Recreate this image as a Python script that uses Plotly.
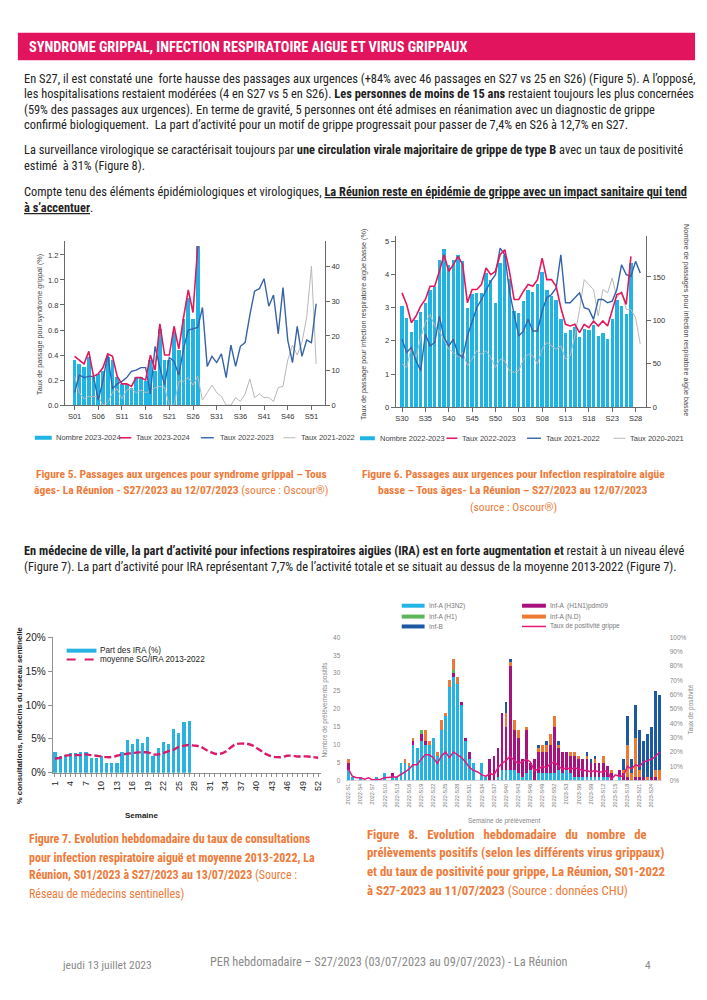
import plotly.graph_objects as go

W, H = 707, 1000
def px(x): return x / W
def py(y): return 1 - y / H

BODY = "Liberation Sans Narrow, Roboto Condensed, Liberation Sans, sans-serif"
CHART = "Liberation Sans, Arial, sans-serif"

CYAN = "#1FB4E4"
PINK = "#E3195D"
BLUE = "#3562A9"
GREY = "#B8B8B8"
ORANGE_TXT = "#EE7B3A"

# ---------------- Figure 5 data ----------------
f5_weeks = ["S01","S02","S03","S04","S05","S06","S07","S08","S09","S10","S11","S12","S13",
            "S14","S15","S16","S17","S18","S19","S20","S21","S22","S23","S24","S25","S26",
            "S27","S28","S29","S30","S31","S32","S33","S34","S35","S36","S37","S38","S39",
            "S40","S41","S42","S43","S44","S45","S46","S47","S48","S49","S50","S51","S52"]
f5_ticks = ["S01","S06","S11","S16","S21","S26","S31","S36","S41","S46","S51"]
f5_nombre_2324 = [13, 12, 11, 14, 8, 9, 10, 14, 13, 8, 6, 6, 5, 8, 8, 7, 13, 10, 22, 13,
                  13, 21, 16, 25, 31, 25, 46]
f5_taux_2324 = [0.39, 0.36, 0.33, 0.43, 0.23, 0.25, 0.30, 0.41, 0.39, 0.23, 0.17, 0.17, 0.15,
                0.22, 0.22, 0.20, 0.40, 0.28, 0.65, 0.40, 0.40, 0.63, 0.45, 0.70, 0.92, 0.74, 1.27]
f5_taux_2223 = [0.10, 0.24, 0.22, 0.23, 0.23, 0.04, 0.20, 0.41, 0.13, 0.17,
                0.19, 0.22, 0.27, 0.28, 0.30, 0.30, 0.09, 0.47, 0.30, 0.16,
                0.38, 0.35, 0.24, 0.45, 0.60, 0.61, 0.62, 0.78, 0.31, 0.39,
                0.34, 0.41, 0.22, 0.48, 0.31, 0.47, 0.50, 0.72, 0.91, 0.93,
                1.01, 0.79, 0.88, 0.57, 0.94, 0.52, 0.34, 0.63, 0.39, 0.52, 0.50, 0.81]
f5_taux_2122 = [0.23, 0.10, 0.05, 0.07, 0.07, 0.07, 0.00, 0.02, 0.10, 0.13,
                0.05, 0.12, 0.13, 0.10, 0.12, 0.10, 0.11, 0.14, 0.15, 0.14,
                0.00, 0.00, 0.19, 0.19, 0.22, 0.16, 0.23, 0.04, 0.10, 0.16,
                0.10, 0.07, 0.00, 0.00, 0.06, 0.03, 0.09, 0.21, 0.06, 0.09,
                0.06, 0.06, 0.03, 0.14, 0.15, 0.36, 0.48, 0.40, 0.50, 0.70, 1.11, 0.33]

# ---------------- Figure 6 data ----------------
f6_weeks = ["S30","S31","S32","S33","S34","S35","S36","S37","S38","S39","S40","S41","S42",
            "S43","S44","S45","S46","S47","S48","S49","S50","S51","S52","S01","S02","S03",
            "S04","S05","S06","S07","S08","S09","S10","S11","S12","S13","S14","S15","S16",
            "S17","S18","S19","S20","S21","S22","S23","S24","S25","S26","S27","S28","S29"]
f6_ticks = ["S30","S35","S40","S45","S50","S03","S08","S13","S18","S23","S28"]
f6_nombre_2223 = [116, 103, 87, 100, 110, 120, 135, 139, 170, 182,
                  164, 170, 175, 168, 114, 130, 132, 132, 155, 146,
                  120, 166, 175, 148, 111, 108, 122, 135, 133, 142,
                  156, 135, 128, 123, 102, 86, 89, 92, 81, 90,
                  89, 95, 82, 86, 78, 102, 124, 116, 107, 166]
f6_taux_2223 = [3.45, 3.1, 2.55, 2.75, 3.05, 3.25, 3.65, 3.65, 4.1, 4.6,
                4.1, 4.3, 4.55, 4.3, 3.15, 3.55, 3.55, 3.7, 4.2, 4.0,
                4.1, 4.6, 4.75, 4.1, 3.25, 3.25, 3.5, 3.7, 3.65, 3.85,
                4.5, 3.85, 3.85, 3.65, 3.0, 2.5, 2.45, 2.5, 2.25, 2.5,
                2.4, 2.6, 2.45, 2.6, 2.45, 2.9, 3.4, 3.45, 3.1, 4.55]
f6_taux_2122 = [2.05, 1.65, 1.8, 1.4, 1.1, 2.2, 1.85, 1.95, 2.75, 2.1,
                1.85, 2.05, 1.6, 1.5, 2.15, 2.55, 3.0, 3.25, 3.55, 3.8,
                4.0, 4.8, 4.6, 3.5, 2.8, 2.15, 2.3, 2.65, 2.3, 2.3,
                2.9, 3.3, 3.4, 3.6, 4.6, 3.15, 3.15, 3.3, 3.45, 3.0,
                2.95, 2.65, 3.25, 3.25, 3.15, 3.2, 3.55, 4.3, 4.0, 3.95, 4.4, 4.05]
f6_taux_2021 = [1.3, 1.2, 1.8, 1.5, 2.1, 2.55, 2.8, 2.45, 2.3, 2.0,
                1.75, 1.65, 1.5, 1.65, 1.25, 1.45, 1.7, 1.6, 1.7, 1.5,
                1.2, 1.45, 1.4, 1.1, 1.05, 1.1, 1.45, 1.6, 1.55, 1.3,
                1.75, 1.95, 1.85, 1.75, 1.85, 1.45, 1.55, 2.15, 2.95, 3.85,
                3.7, 3.55, 2.75, 3.55, 3.45, 3.9, 3.3, 3.5, 2.95, 2.95, 2.7, 1.9]

# ---------------- Figure 7 data ----------------
f7_weeks = list(range(1, 53))
f7_ticklabels = ["1","","","4","","","7","","","10","","","13","","","16","","","19","","",
                 "22","","","25","","","28","","","31","","","34","","","37","","","40","","",
                 "43","","","46","","","49","","","52"]
f7_yticks = [0, 5, 10, 15, 20]
f7_yticklabels = ["0%", "5%", "10%", "15%", "20%"]
f7_part_ira = [3.0, 2.4, 2.6, 2.9, 2.9, 3.0, 3.0, 2.1, 2.1, 2.5, 1.5, 1.5, 1.5, 3.0,
               4.9, 4.2, 5.0, 4.4, 5.2, 2.4, 3.6, 4.6, 4.3, 6.4, 5.9, 7.5, 7.7]
f7_moyenne = [2.1, 2.2, 2.5, 2.6, 2.6, 2.6, 2.7, 2.6, 2.5, 2.4,
              2.3, 2.3, 2.5, 2.7, 2.8, 2.9, 3.0, 3.0, 3.0, 2.7,
              2.7, 2.9, 3.2, 3.4, 3.8, 4.0, 4.1, 4.0, 3.9, 3.5,
              3.1, 2.8, 2.8, 3.1, 3.7, 4.2, 4.3, 4.3, 4.1, 3.7,
              3.2, 2.7, 2.4, 2.3, 2.3, 2.5, 2.5, 2.4, 2.4, 2.4, 2.3, 2.2]

# ---------------- Figure 8 data ----------------
f8_weeks = (["2022-S%d" % w for w in range(1, 53)] + ["2023-S%d" % w for w in range(1, 27)])
f8_ticks = ["2022-S1","2022-S4","2022-S7","2022-S10","2022-S13","2022-S16","2022-S19",
            "2022-S22","2022-S25","2022-S28","2022-S31","2022-S34","2022-S37","2022-S40",
            "2022-S43","2022-S46","2022-S49","2022-S52","2023-S3","2023-S6","2023-S9",
            "2023-S12","2023-S15","2023-S18","2023-S21","2023-S24"]
f8_h3n2 = [3,1,0,1,0,0,0,1,0,2, 0,1,1,5,5,4,10,9,11,10, 10,12,7,14,18,26,29,27,21,11,
           6,5,0,5,1,0,0,1,3,3, 3,3,2,1,2,3,0,2,2,2, 2,2,3,2,3,2,1,1,1,1,
           1,1,1,1,1,0,0,1,0,0, 0,0,0,0,0,0,0,0]
f8_h1n1 = [2,0,0,0,0,0,0,0,0,0, 0,1,0,0,0,0,1,0,2,1, 0,0,0,0,0,0,1,0,1,1,
           2,0,0,0,0,6,7,8,16,12, 29,11,10,5,12,2,6,6,6,6, 8,13,6,6,5,5,6,5,5,5,
           4,4,4,4,3,2,0,2,2,1, 0,1,1,1,0,1,1,0]
f8_h1 = [0,0,0,0,0,0,0,0,0,0, 0,0,0,0,0,0,0,0,1,0, 0,0,0,0,0,0,1,0,0,0,
         0,0,0,0,0,0,0,0,0,0, 0,0,0,0,0,0,0,0,0,0, 0,0,0,0,0,0,0,0,0,0,
         0,0,0,0,0,0,0,0,0,0, 0,0,0,0,0,0,0,0]
f8_nd = [1,0,0,0,0,0,0,0,0,0, 0,0,0,0,1,1,1,0,0,3, 1,0,1,3,1,2,3,2,0,0,
         0,0,0,0,0,0,0,0,0,4, 1,3,2,0,1,0,0,1,2,2, 3,3,1,0,0,1,1,1,0,1,
         0,1,0,2,0,1,0,0,1,9, 2,11,2,0,1,0,2,3]
f8_b = [0,0,0,0,0,0,0,0,0,0, 0,0,0,0,0,0,0,0,0,0, 0,0,0,0,0,0,0,0,0,0,
        0,0,0,0,0,0,0,0,0,3, 1,0,0,0,0,0,0,1,0,1, 0,0,1,0,0,0,0,0,0,1,
        1,1,0,0,0,0,0,0,3,8, 4,9,11,10,12,14,22,21]
f8_taux = [8,3,2,2,1,2,0.5,0.5,1,2, 2.5,2.5,2.5,4,6,8,11,11,15,18,
           18,16,12,17,20,16,20,18,16,13, 9,7,6,4,3,5,4,9,12,14,
           17,14,12,13,15,13,7,8,10,9, 12,13,10,8,9,8,9,8,7,7,
           6,7,6,6,7,1,4,3,3,10, 8,11,10,13,14,15,17,20]
f8_taux_frac = [v / 100 for v in f8_taux]

F8_CYAN, F8_MAG, F8_GREEN, F8_ORANGE, F8_BLUE, F8_LINE = "#23B4E6", "#A8127F", "#5DB55A", "#EC7A32", "#1D58A3", "#E2197A"

fig = go.Figure()

# ---- Fig 5 traces ----
fig.add_trace(go.Bar(x=f5_weeks[:len(f5_nombre_2324)], y=f5_nombre_2324, marker=dict(color=CYAN, line=dict(width=0)),
                     width=0.8, xaxis="x", yaxis="y"))
fig.add_trace(go.Scatter(x=f5_weeks, y=f5_taux_2122, mode="lines", line=dict(color=GREY, width=1), xaxis="x", yaxis="y2"))
fig.add_trace(go.Scatter(x=f5_weeks, y=f5_taux_2223, mode="lines", line=dict(color=BLUE, width=1.4), xaxis="x", yaxis="y2"))
fig.add_trace(go.Scatter(x=f5_weeks[:len(f5_taux_2324)], y=f5_taux_2324, mode="lines", line=dict(color=PINK, width=1.6), xaxis="x", yaxis="y2"))

# ---- Fig 6 traces ----
fig.add_trace(go.Bar(x=f6_weeks[:len(f6_nombre_2223)], y=f6_nombre_2223, marker=dict(color=CYAN, line=dict(width=0)),
                     width=0.72, xaxis="x2", yaxis="y3"))
fig.add_trace(go.Scatter(x=f6_weeks, y=f6_taux_2021, mode="lines", line=dict(color=GREY, width=1), xaxis="x2", yaxis="y4"))
fig.add_trace(go.Scatter(x=f6_weeks, y=f6_taux_2122, mode="lines", line=dict(color=BLUE, width=1.4), xaxis="x2", yaxis="y4"))
fig.add_trace(go.Scatter(x=f6_weeks[:len(f6_taux_2223)], y=f6_taux_2223, mode="lines", line=dict(color=PINK, width=1.6), xaxis="x2", yaxis="y4"))

# ---- Fig 7 traces ----
fig.add_trace(go.Bar(x=f7_weeks[:len(f7_part_ira)], y=f7_part_ira, marker=dict(color="#29B3E3", line=dict(width=0)),
                     width=0.62, xaxis="x3", yaxis="y5"))
fig.add_trace(go.Scatter(x=f7_weeks, y=f7_moyenne, mode="lines", line=dict(color="#D91B6A", width=2.4, dash="7px,3px", shape="spline"),
                         xaxis="x3", yaxis="y5"))

# ---- Fig 8 traces ----
for vals, col in [(f8_h3n2, F8_CYAN), (f8_h1n1, F8_MAG), (f8_h1, F8_GREEN), (f8_nd, F8_ORANGE), (f8_b, F8_BLUE)]:
    fig.add_trace(go.Bar(x=f8_weeks, y=vals, marker=dict(color=col, line=dict(width=0)), width=0.7, xaxis="x4", yaxis="y6"))
fig.add_trace(go.Scatter(x=f8_weeks, y=f8_taux_frac, mode="lines", line=dict(color=F8_LINE, width=1.5), xaxis="x4", yaxis="y7"))

ax_common = dict(showgrid=False, zeroline=False, ticks="outside", ticklen=4, tickwidth=0.8,
                 tickcolor="#444", showline=True, linecolor="#444", linewidth=0.8,
                 tickfont=dict(family=CHART, size=7.5, color="#333"), fixedrange=True)

layout = dict(
    width=W, height=H, margin=dict(l=0, r=0, t=0, b=0),
    paper_bgcolor="white", plot_bgcolor="rgba(0,0,0,0)",
    showlegend=False, barmode="stack", bargap=0, hovermode=False,
    # Fig 5
    xaxis=dict(ax_common, domain=[px(63), px(325)], anchor="y", type="category",
               categoryorder="array", categoryarray=f5_weeks, range=[-2.1, 52.9], tickvals=f5_ticks),
    yaxis=dict(ax_common, domain=[py(404), py(238)], anchor="x", side="right", range=[0, 47.4],
               tickvals=[0, 10, 20, 30, 40]),
    yaxis2=dict(ax_common, overlaying="y", anchor="x", side="left", range=[0, 1.31],
                tickvals=[0, 0.2, 0.4, 0.6, 0.8, 1.0, 1.2], tickformat=".1f"),
    # Fig 6
    xaxis2=dict(ax_common, domain=[px(395.7), px(648)], anchor="y3", type="category",
                categoryorder="array", categoryarray=f6_weeks, range=[-1.4, 52.3], tickvals=f6_ticks),
    yaxis3=dict(ax_common, domain=[py(406), py(233)], anchor="x2", side="right", range=[0, 197],
                tickvals=[0, 50, 100, 150]),
    yaxis4=dict(ax_common, overlaying="y3", anchor="x2", side="left", range=[0, 5.16],
                tickvals=[0, 1, 2, 3, 4, 5]),
    # Fig 7
    xaxis3=dict(ax_common, domain=[px(50.7), px(320.6)], anchor="y5", range=[0.5, 52.5],
                tickvals=f7_weeks, ticktext=f7_ticklabels, tickangle=-90, linecolor="#777", tickcolor="#777",
                tickfont=dict(family=CHART, size=9, color="#222")),
    yaxis5=dict(ax_common, domain=[py(776), py(639)], anchor="x3", range=[0, 20],
                tickvals=f7_yticks, ticktext=f7_yticklabels, linecolor="#777", tickcolor="#777",
                tickfont=dict(family=CHART, size=10, color="#222")),
    # Fig 8
    xaxis4=dict(showgrid=False, zeroline=False, domain=[px(346.3), px(663.5)], anchor="y6", type="category",
                categoryorder="array", categoryarray=f8_weeks, range=[-0.5, 77.5], tickvals=f8_ticks,
                tickangle=-90, ticks="", showline=True, linecolor="#C8C8C8", linewidth=0.8,
                tickfont=dict(family=CHART, size=5.5, color="#777"), fixedrange=True),
    yaxis6=dict(showgrid=False, zeroline=False, domain=[py(784), py(639)], anchor="x4", range=[0, 40],
                tickvals=[0, 5, 10, 15, 20, 25, 30, 35, 40], showline=False, ticks="",
                ticklabelstandoff=5, tickfont=dict(family=CHART, size=6.5, color="#888"), fixedrange=True),
    yaxis7=dict(showgrid=False, zeroline=False, overlaying="y6", anchor="x4", side="right", range=[0, 1],
                tickvals=[0, .1, .2, .3, .4, .5, .6, .7, .8, .9, 1.0], tickformat=".0%", showline=False, ticks="",
                ticklabelstandoff=7, tickfont=dict(family=CHART, size=6.5, color="#888"), fixedrange=True),
)
fig.update_layout(**layout)

shapes = []
ann = []

def txt(x, y, text, size=11.5, color="#222", anchor="left", family=BODY, angle=0, yanchor="middle"):
    ann.append(dict(x=px(x), y=py(y), xref="paper", yref="paper", text=text, showarrow=False,
                    xanchor=anchor, yanchor=yanchor, textangle=angle,
                    font=dict(size=size, color=color, family=family)))

def swatch(x0, x1, y, color, width=1.5, dash="solid"):
    shapes.append(dict(type="line", xref="paper", yref="paper", x0=px(x0), x1=px(x1), y0=py(y), y1=py(y),
                       line=dict(color=color, width=width, dash=dash)))

# Header
shapes.append(dict(type="rect", xref="paper", yref="paper", x0=px(16), x1=px(697), y0=py(55), y1=py(27),
                   fillcolor="#E2145E", line=dict(width=0), layer="below"))
txt(25, 41.5, "<b>SYNDROME GRIPPAL, INFECTION RESPIRATOIRE AIGUE ET VIRUS GRIPPAUX</b>", size=14.3, color="white")

# Paragraphs
body = [
    (73, "En S27, il est constaté une  forte hausse des passages aux urgences (+84% avec 46 passages en S27 vs 25 en S26) (Figure 5). A l’opposé,"),
    (89, "les hospitalisations restaient modérées (4 en S27 vs 5 en S26). <b>Les personnes de moins de 15 ans</b> restaient toujours les plus concernées"),
    (104.5, "(59% des passages aux urgences). En terme de gravité, 5 personnes ont été admises en réanimation avec un diagnostic de grippe"),
    (120, "confirmé biologiquement.  La part d’activité pour un motif de grippe progressait pour passer de 7,4% en S26 à 12,7% en S27."),
    (145, "La surveillance virologique se caractérisait toujours par <b>une circulation virale majoritaire de grippe de type B</b> avec un taux de positivité"),
    (161, "estimé  à 31% (Figure 8)."),
    (188, "Compte tenu des éléments épidémiologiques et virologiques, <b><u>La Réunion reste en épidémie de grippe avec un impact sanitaire qui tend</u></b>"),
    (203.5, "<b><u>à s’accentuer</u></b>."),
    (551, "<b>En médecine de ville, la part d’activité pour infections respiratoires aigües (IRA) est en forte augmentation et</b> restait à un niveau élevé"),
    (567, "(Figure 7). La part d’activité pour IRA représentant 7,7% de l’activité totale et se situait au dessus de la moyenne 2013-2022 (Figure 7)."),
]
for y, t in body:
    txt(20, y, t, size=12.4)

# Fig 5 titles & legend
txt(37, 322, "Taux de passage pour syndrome grippal (%)", size=7.2, color="#444", anchor="center", family=CHART, angle=-90)
swatch(33, 50, 437, CYAN, 4)
txt(52, 437, "Nombre 2023-2024", size=7.5, color="#444", family=CHART)
swatch(118, 130, 437, PINK, 1.6)
txt(133, 437, "Taux 2023-2024", size=7.5, color="#444", family=CHART)
swatch(200, 213, 437, BLUE, 1.4)
txt(217, 437, "Taux 2022-2023", size=7.5, color="#444", family=CHART)
swatch(283, 295, 437, GREY, 1)
txt(299, 437, "Taux 2021-2022", size=7.5, color="#444", family=CHART)

# Fig 6 titles & legend
txt(363, 322, "Taux de passage pour infection respiratoire aigüe basse (%)", size=7.2, color="#444", anchor="center", family=CHART, angle=-90)
txt(689, 318, "Nombre de passages pour infection respiratoire aigüe basse", size=7.2, color="#444", anchor="center", family=CHART, angle=90)
swatch(360, 375, 437.5, CYAN, 4)
txt(378, 437.5, "Nombre 2022-2023", size=7.5, color="#444", family=CHART)
swatch(447, 458, 437.5, PINK, 1.6)
txt(461, 437.5, "Taux 2022-2023", size=7.5, color="#444", family=CHART)
swatch(528, 542, 437.5, BLUE, 1.4)
txt(545, 437.5, "Taux 2021-2022", size=7.5, color="#444", family=CHART)
swatch(615, 627, 437.5, GREY, 1)
txt(630, 437.5, "Taux 2020-2021", size=7.5, color="#444", family=CHART)

# Captions 5/6
txt(181, 474, "<b>Figure 5. Passages aux urgences pour syndrome grippal – Tous</b>", size=11.5, color=ORANGE_TXT, anchor="center")
txt(181, 490, "<b>âges- La Réunion - S27/2023 au 12/07/2023</b> (source : Oscour®)", size=11.5, color=ORANGE_TXT, anchor="center")
txt(514, 474, "<b>Figure 6. Passages aux urgences pour Infection respiratoire aigüe</b>", size=11.5, color=ORANGE_TXT, anchor="center")
txt(514, 490, "<b>basse – Tous âges- La Réunion – S27/2023 au 12/07/2023</b>", size=11.5, color=ORANGE_TXT, anchor="center")
txt(514, 507, "(source : Oscour®)", size=11.5, color=ORANGE_TXT, anchor="center")

# Fig 7 titles & legend
txt(17, 718, "<b>% consultations, médecins du réseau sentinelle</b>", size=7.8, color="#222", anchor="center", family=CHART, angle=-90)
txt(140, 819, "<b>Semaine</b>", size=8, color="#222", anchor="center", family=CHART)
swatch(65, 95, 652.5, "#29B3E3", 4)
txt(97, 652.5, "Part des IRA (%)", size=8.2, color="#222", family=CHART)
swatch(65, 95, 661.5, "#D91B6A", 2, "dash")
txt(97, 661.5, "moyenne SG/IRA 2013-2022", size=8.2, color="#222", family=CHART)

# Fig 8 titles & legend
txt(325, 712, "Nombre de prélèvements positifs", size=6.5, color="#888", anchor="center", family=CHART, angle=-90)
txt(693, 712, "Taux de positivité", size=6.5, color="#888", anchor="center", family=CHART, angle=-90)
txt(505, 825, "Semaine de prélèvement", size=6.5, color="#888", anchor="center", family=CHART)
for y, (c1, t1), (c2, t2, w2) in [
    (607, (F8_CYAN, "Inf-A (H3N2)"), (F8_MAG, "Inf-A  (H1N1)pdm09", 4)),
    (618, (F8_GREEN, "Inf-A (H1)"), (F8_ORANGE, "Inf-A (N.D)", 4)),
    (628, (F8_BLUE, "Inf-B"), (F8_LINE, "Taux de positivité grippe", 1.5)),
]:
    swatch(402, 425, y, c1, 4)
    txt(427, y, t1, size=6.5, color="#777", family=CHART)
    swatch(523, 547, y, c2, w2)
    txt(549, y, t2, size=6.5, color="#777", family=CHART)

# Captions 7/8
cap7 = [
    (843, "<b>Figure 7. Evolution hebdomadaire du taux de consultations</b>"),
    (862, "<b>pour infection respiratoire aiguë et moyenne 2013-2022, La</b>"),
    (880, "<b>Réunion, S01/2023 à S27/2023 au 13/07/2023</b> (Source :"),
    (899, "Réseau de médecins sentinelles)"),
]
for y, t in cap7:
    txt(25, y, t, size=12, color=ORANGE_TXT)
cap8 = [
    (839, "<b>Figure\u00a0\u00a0 8.\u00a0\u00a0 Evolution\u00a0\u00a0 hebdomadaire\u00a0\u00a0 du\u00a0\u00a0 nombre\u00a0\u00a0 de</b>"),
    (857, "<b>prélèvements positifs (selon les différents virus grippaux)</b>"),
    (876, "<b>et du taux de positivité pour grippe, La Réunion, S01-2022</b>"),
    (895, "<b>à S27-2023 au 11/07/2023</b> (Source : données CHU)"),
]
for y, t in cap8:
    txt(365, y, t, size=12.8, color=ORANGE_TXT)

# Footer
txt(58, 971, "jeudi 13 juillet 2023", size=11.5, color="#8A8A8A")
txt(389, 968, "PER hebdomadaire – S27/2023 (03/07/2023 au 09/07/2023) - La Réunion", size=12.3, color="#8A8A8A", anchor="center")
txt(650, 971, "4", size=11.5, color="#8A8A8A", anchor="center")

fig.update_layout(shapes=shapes, annotations=ann)
fig.write_html("out.html",
               config={"displayModeBar": False, "staticPlot": True},
               post_script="document.body.style.margin='0';document.body.style.padding='0';document.documentElement.style.overflow='hidden';")
